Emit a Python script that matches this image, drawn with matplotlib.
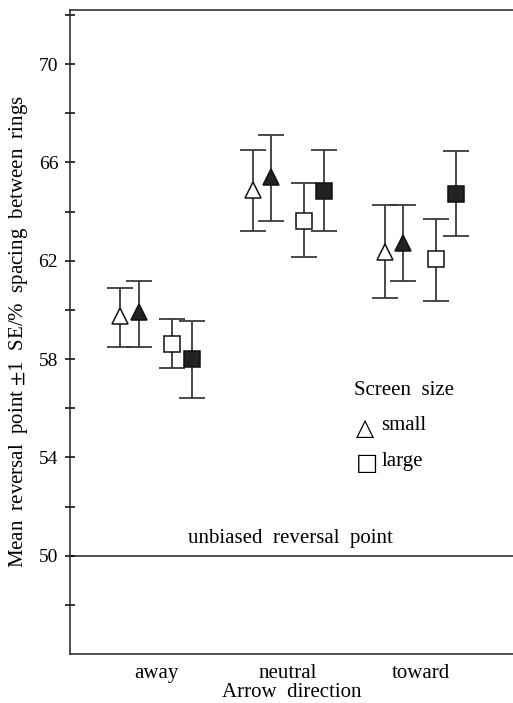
import matplotlib.pyplot as plt
import numpy as np

# data
directions = ['away', 'neutral', 'toward']
conditions = ['small open', 'small filled', 'large open', 'large filled']
markers = ['^', '^', 's', 's']
marker_sizes = [12, 12, 11, 11]
fills = ['white', '#222222', 'white', '#222222']
offsets = [-0.27, -0.13, 0.12, 0.27]

means = [
    [59.75, 64.87, 62.35],   # small, open
    [59.90, 65.41, 62.72],   # small, filled
    [58.61, 63.63, 62.06],   # large, open
    [58.00, 64.83, 64.73],   # large, filled
]
lower = [
    [58.47, 63.20, 60.47],
    [58.47, 63.60, 61.17],
    [57.64, 62.15, 60.35],
    [56.41, 63.20, 62.99],
]
upper = [
    [60.90, 66.50, 64.27],
    [61.16, 67.11, 64.27],
    [59.61, 65.15, 63.69],
    [59.54, 66.50, 66.47],
]
unbiased = 50

plt.rcParams['font.family'] = ['Liberation Serif', 'DejaVu Sans']
plt.rcParams['mathtext.fontset'] = 'stix'

fig = plt.figure(figsize=(5.13, 7.03), dpi=100)
ax = fig.add_axes([0.1365, 0.0697, 0.8635, 0.9161])

x = np.arange(1, len(directions) + 1)
for i in range(len(conditions)):
    m = np.array(means[i])
    lo = m - np.array(lower[i])
    hi = np.array(upper[i]) - m
    ax.errorbar(x + offsets[i], m, yerr=[lo, hi], fmt='none', ecolor='#3a3a3a',
                elinewidth=1.3, capsize=9.5, capthick=1.3, zorder=2)
    ax.plot(x + offsets[i], m, linestyle='none', marker=markers[i], markersize=marker_sizes[i],
            markerfacecolor=fills[i], markeredgecolor='#111111', markeredgewidth=1.1,
            zorder=3)

# reference line
ax.axhline(unbiased, color='#222222', lw=1.1, zorder=1)
ax.text(2.02, unbiased + 0.3, 'unbiased  reversal  point', ha='center', va='bottom', fontsize=15)

# legend done by hand
fs = 15
ax.text(2.5, 56.7, 'Screen  size', ha='left', va='center', fontsize=fs)
ax.text(2.515, 55.2, '\u25B3', ha='left', va='center', fontsize=17, family=['DejaVu Sans'])
ax.text(2.705, 55.3, 'small', ha='left', va='center', fontsize=fs)
ax.text(2.515, 53.75, '\u25A1', ha='left', va='center', fontsize=17, family=['DejaVu Sans'])
ax.text(2.705, 53.85, 'large', ha='left', va='center', fontsize=fs)

ax.set_xlim(0.35, 3.70)
ax.set_ylim(46, 72.2)
ax.set_xticks(x)
ax.set_xticklabels(directions, fontsize=15)
ax.tick_params(axis='x', length=0, pad=7)
ax.set_yticks(np.arange(50, 71, 4))
ax.set_yticks(np.arange(48, 73, 4), minor=True)
ax.tick_params(axis='y', which='both', direction='inout', length=7, width=1.1, labelsize=14, pad=5)
ax.spines['right'].set_visible(False)
for s in ['left', 'top', 'bottom']:
    ax.spines[s].set_linewidth(1.1)
    ax.spines[s].set_color('#222222')

ax.set_xlabel('Arrow  direction', fontsize=15, labelpad=0)
ax.set_ylabel('Mean  reversal  point $\\pm$1  SE/%  spacing  between  rings', fontsize=15, labelpad=6)

fig.savefig('out.png', dpi=100)
